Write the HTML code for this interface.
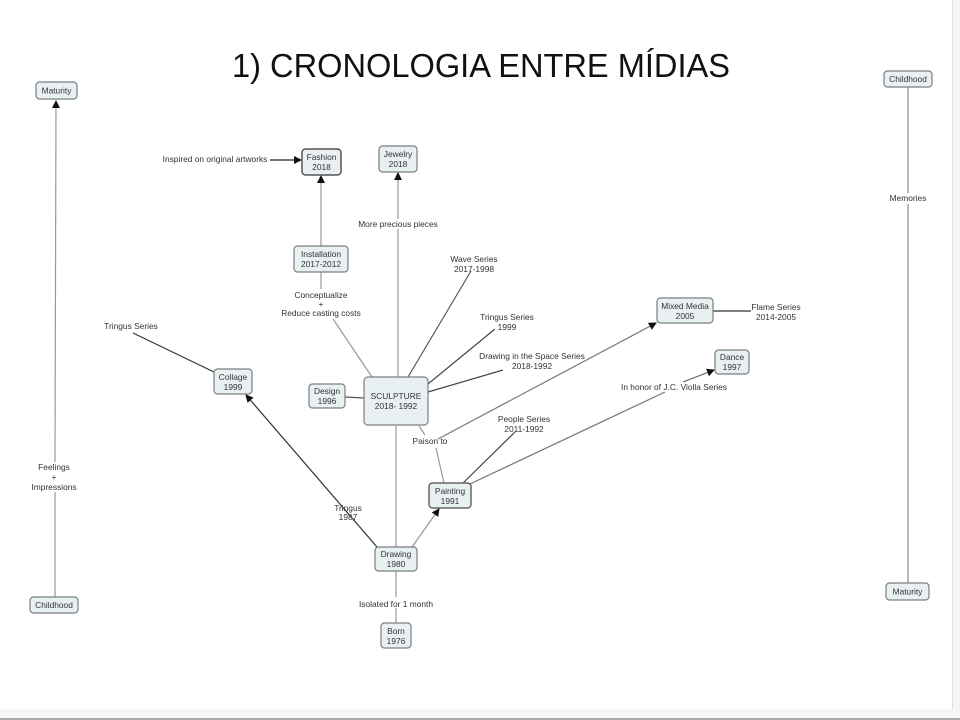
<!DOCTYPE html>
<html><head><meta charset="utf-8"><style>
html,body{margin:0;padding:0;background:#fff;}
svg{display:block;}
text{font-family:"Liberation Sans",Arial,sans-serif;fill:#333;}
.l{font-size:8.4px;text-anchor:middle;}
.n{font-size:8.4px;text-anchor:middle;fill:#333;}
.box{fill:#e9f0f2;stroke:#7a7f82;stroke-width:1.2;}
.g{stroke:#999;stroke-width:1.2;fill:none;}
.d{stroke:#444;stroke-width:1.2;fill:none;}
</style></head><body>
<svg width="960" height="720" viewBox="0 0 960 720" xmlns="http://www.w3.org/2000/svg">
<defs>
<marker id="a" markerWidth="8" markerHeight="8" refX="7" refY="4" orient="auto" markerUnits="userSpaceOnUse">
<path d="M0,0 L8,4 L0,8 z" fill="#111"/>
</marker>
</defs>
<rect x="0" y="0" width="960" height="720" fill="#fff"/>
<rect x="952" y="0" width="8" height="720" fill="#f5f5f5"/>
<line x1="952.5" y1="0" x2="952.5" y2="710" stroke="#ddd" stroke-width="1"/>
<rect x="0" y="709" width="960" height="9" fill="#f6f6f6"/>
<rect x="0" y="718" width="960" height="2" fill="#aaa"/>

<text x="481" y="77" font-size="33" text-anchor="middle" textLength="498" lengthAdjust="spacingAndGlyphs" style="fill:#111">1) CRONOLOGIA ENTRE MÍDIAS</text>

<!-- left vertical -->
<line class="g" x1="55" y1="597" x2="55" y2="492"/>
<line class="g" x1="55" y1="462" x2="56" y2="101" marker-end="url(#a)"/>
<text class="l" x="54" y="470">Feelings</text>
<text class="l" x="54" y="480">+</text>
<text class="l" x="54" y="490">Impressions</text>

<!-- right vertical -->
<line class="g" x1="908" y1="87" x2="908" y2="193" style="stroke:#888"/>
<line class="g" x1="908" y1="204" x2="908" y2="583" style="stroke:#888"/>
<text class="l" x="908" y="201">Memories</text>

<!-- fashion -->
<line class="d" x1="270" y1="160" x2="301" y2="160" marker-end="url(#a)" style="stroke:#222"/>
<text class="l" x="215" y="162">Inspired on original artworks</text>
<line class="g" x1="321" y1="246" x2="321" y2="176" marker-end="url(#a)"/>

<!-- installation to sculpture -->
<line class="g" x1="321" y1="272" x2="321" y2="289"/>
<text class="l" x="321" y="298">Conceptualize</text>
<text class="l" x="321" y="307">+</text>
<text class="l" x="321" y="316">Reduce casting costs</text>
<line class="g" x1="333" y1="319" x2="372" y2="377"/>

<!-- jewelry -->
<line class="g" x1="398" y1="377" x2="398" y2="229"/>
<line class="g" x1="398" y1="219" x2="398" y2="173" marker-end="url(#a)"/>
<text class="l" x="398" y="227">More precious pieces</text>

<!-- sculpture radial lines -->
<line class="d" x1="471" y1="271" x2="408" y2="377" style="stroke:#555"/>
<text class="l" x="474" y="262">Wave Series</text>
<text class="l" x="474" y="272">2017-1998</text>
<line class="d" x1="495" y1="329" x2="428" y2="384"/>
<text class="l" x="507" y="320">Tringus Series</text>
<text class="l" x="507" y="330">1999</text>
<line class="d" x1="503" y1="370" x2="428" y2="392"/>
<text class="l" x="532" y="359">Drawing in the Space Series</text>
<text class="l" x="532" y="369">2018-1992</text>

<!-- design -->
<line class="d" x1="345" y1="397" x2="364" y2="398" style="stroke:#555"/>

<!-- collage -->
<line class="d" x1="133" y1="333" x2="214" y2="372" style="stroke:#333"/>
<text class="l" x="131" y="329">Tringus Series</text>
<line class="d" x1="377" y1="547" x2="246" y2="395" marker-end="url(#a)" style="stroke:#333"/>
<text class="l" x="348" y="511">Tringus</text>
<text class="l" x="348" y="520">1987</text>

<!-- sculpture to drawing -->
<line class="g" x1="396" y1="426" x2="396" y2="547"/>

<!-- paison -->
<line class="g" x1="419" y1="426" x2="425" y2="435"/>
<text class="l" x="430" y="444">Paison to</text>
<line class="g" x1="436" y1="448" x2="444" y2="483"/>
<line class="g" x1="438" y1="439" x2="656" y2="323" marker-end="url(#a)" style="stroke:#777"/>

<!-- mixed media / flame -->
<line class="d" x1="713" y1="311" x2="751" y2="311" style="stroke:#333"/>
<text class="l" x="776" y="310">Flame Series</text>
<text class="l" x="776" y="320">2014-2005</text>

<!-- dance -->
<line class="g" x1="683" y1="382" x2="714" y2="370" marker-end="url(#a)" style="stroke:#666"/>
<text class="l" x="674" y="390">In honor of J.C. Violla Series</text>
<line class="g" x1="665" y1="392" x2="470" y2="484" style="stroke:#777"/>

<!-- people -->
<line class="d" x1="515" y1="432" x2="463" y2="483" style="stroke:#444"/>
<text class="l" x="524" y="422">People Series</text>
<text class="l" x="524" y="432">2011-1992</text>

<!-- drawing to painting -->
<line class="g" x1="412" y1="547" x2="439" y2="509" marker-end="url(#a)"/>

<!-- born -->
<line class="g" x1="396" y1="571" x2="396" y2="597"/>
<line class="g" x1="396" y1="608" x2="396" y2="623"/>
<text class="l" x="396" y="607">Isolated for 1 month</text>

<!-- nodes -->
<rect class="box" x="36" y="82" width="41" height="17" rx="3.5"/>
<text class="n" x="56.5" y="93.5">Maturity</text>
<rect class="box" x="30" y="597" width="48" height="16" rx="3.5"/>
<text class="n" x="54" y="608">Childhood</text>
<rect class="box" x="884" y="71" width="48" height="16" rx="3.5"/>
<text class="n" x="908" y="82">Childhood</text>
<rect class="box" x="886" y="583" width="43" height="17" rx="3.5"/>
<text class="n" x="907.5" y="594.5">Maturity</text>

<rect class="box" x="302" y="149" width="39" height="26" rx="3.5" style="stroke:#555;stroke-width:1.5"/>
<text class="n" x="321.5" y="160">Fashion</text><text class="n" x="321.5" y="170">2018</text>
<rect class="box" x="379" y="146" width="38" height="26" rx="3.5"/>
<text class="n" x="398" y="157">Jewelry</text><text class="n" x="398" y="167">2018</text>
<rect class="box" x="294" y="246" width="54" height="26" rx="3.5"/>
<text class="n" x="321" y="257">Installation</text><text class="n" x="321" y="267">2017-2012</text>
<rect class="box" x="364" y="377" width="64" height="48" rx="4"/>
<text class="n" x="396" y="399">SCULPTURE</text><text class="n" x="396" y="409">2018- 1992</text>
<rect class="box" x="309" y="384" width="36" height="24" rx="3.5"/>
<text class="n" x="327" y="394">Design</text><text class="n" x="327" y="404">1996</text>
<rect class="box" x="214" y="369" width="38" height="25" rx="3.5"/>
<text class="n" x="233" y="380">Collage</text><text class="n" x="233" y="390">1999</text>
<rect class="box" x="657" y="298" width="56" height="25" rx="3.5"/>
<text class="n" x="685" y="309">Mixed Media</text><text class="n" x="685" y="319">2005</text>
<rect class="box" x="715" y="350" width="34" height="24" rx="3.5"/>
<text class="n" x="732" y="360">Dance</text><text class="n" x="732" y="370">1997</text>
<rect class="box" x="429" y="483" width="42" height="25" rx="3.5" style="stroke:#666;stroke-width:1.5"/>
<text class="n" x="450" y="494">Painting</text><text class="n" x="450" y="504">1991</text>
<rect class="box" x="375" y="547" width="42" height="24" rx="3.5"/>
<text class="n" x="396" y="557">Drawing</text><text class="n" x="396" y="567">1980</text>
<rect class="box" x="381" y="623" width="30" height="25" rx="3.5"/>
<text class="n" x="396" y="634">Born</text><text class="n" x="396" y="644">1976</text>
</svg>
</body></html>
